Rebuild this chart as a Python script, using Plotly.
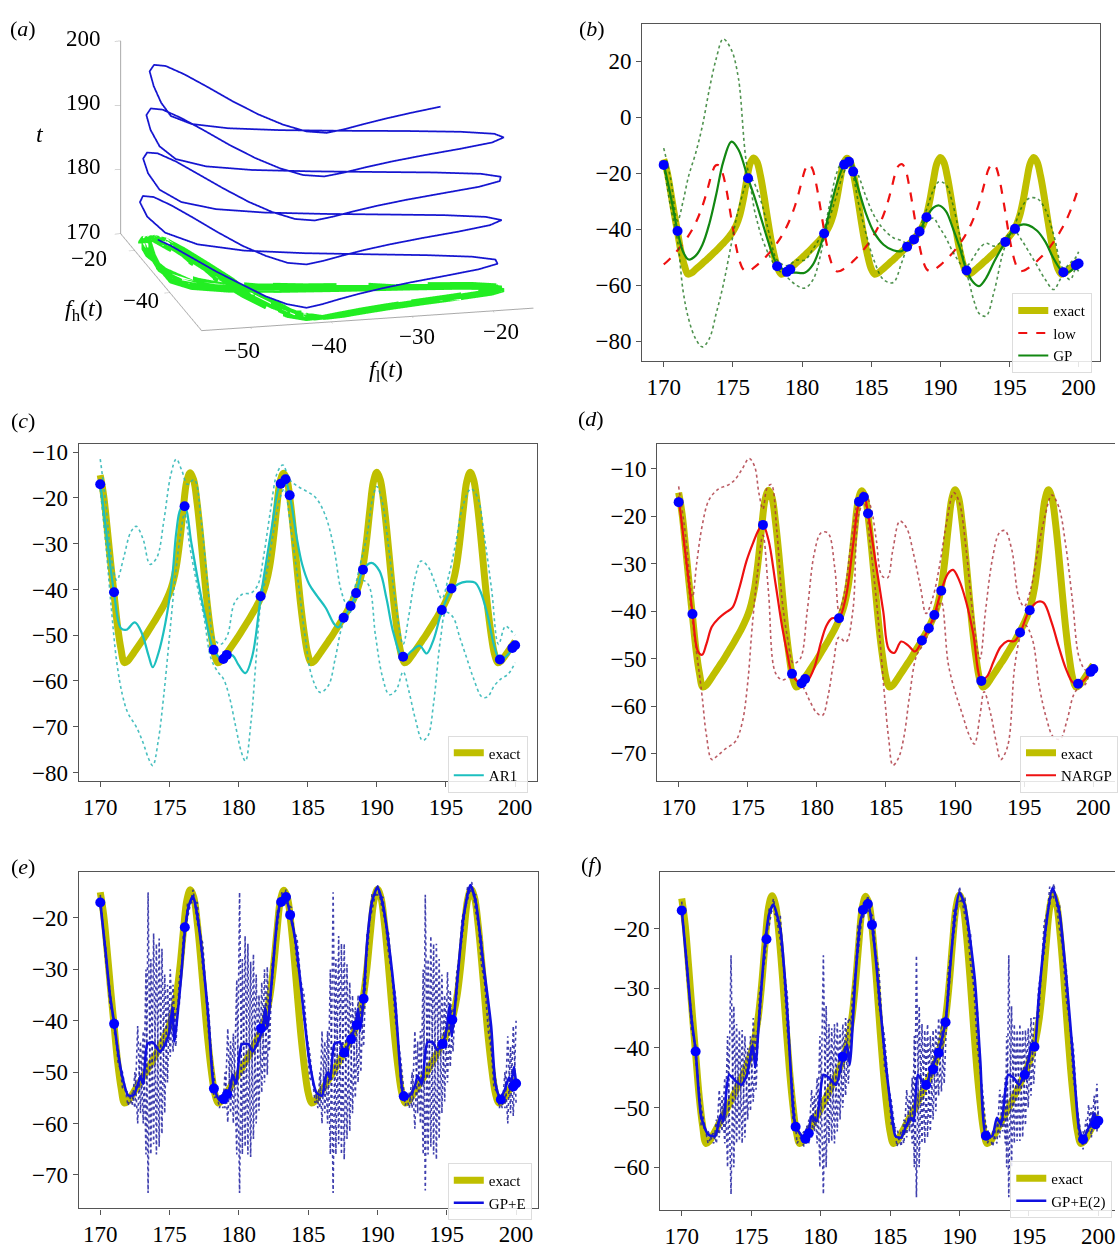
import plotly.graph_objects as go

FONT = "Liberation Serif"
W, H = 1118, 1249

# ---------------- shared time grid (exact = high fidelity f_h, low = f_l) ----------------
t = [170.0, 170.25, 170.5, 170.75, 171.0, 171.25, 171.5, 171.75, 172.0, 172.25, 172.5, 172.75,
     173.0, 173.25, 173.5, 173.75, 174.0, 174.25, 174.5, 174.75, 175.0, 175.25, 175.5, 175.75,
     176.0, 176.25, 176.5, 176.75, 177.0, 177.25, 177.5, 177.75, 178.0, 178.25, 178.5, 178.75,
     179.0, 179.25, 179.5, 179.75, 180.0, 180.25, 180.5, 180.75, 181.0, 181.25, 181.5, 181.75,
     182.0, 182.25, 182.5, 182.75, 183.0, 183.25, 183.5, 183.75, 184.0, 184.25, 184.5, 184.75,
     185.0, 185.25, 185.5, 185.75, 186.0, 186.25, 186.5, 186.75, 187.0, 187.25, 187.5, 187.75,
     188.0, 188.25, 188.5, 188.75, 189.0, 189.25, 189.5, 189.75, 190.0, 190.25, 190.5, 190.75,
     191.0, 191.25, 191.5, 191.75, 192.0, 192.25, 192.5, 192.75, 193.0, 193.25, 193.5, 193.75,
     194.0, 194.25, 194.5, 194.75, 195.0, 195.25, 195.5, 195.75, 196.0, 196.25, 196.5, 196.75,
     197.0, 197.25, 197.5, 197.75, 198.0, 198.25, 198.5, 198.75, 199.0, 199.25, 199.5, 199.75, 200.0]

exact = [-15.0, -19.5, -26.5, -34.0, -41.0, -48.0, -53.0, -56.0,
         -55.6, -54.6, -53.5, -52.4, -51.3, -50.2, -49.0, -47.8, -46.6, -45.3, -44.0, -42.5, -40.8, -38.5,
         -35.0, -29.5, -22.5, -16.5, -14.5, -16.0, -21.0, -28.0, -36.0, -43.5, -49.5, -54.0, -56.0,
         -55.6, -54.6, -53.5, -52.4, -51.3, -50.2, -49.0, -47.8, -46.6, -45.3, -44.0, -42.5, -40.8, -38.5,
         -35.0, -29.5, -22.5, -16.5, -14.6, -16.0, -21.0, -28.0, -36.0, -43.5, -49.5, -54.0, -56.0,
         -55.6, -54.6, -53.5, -52.4, -51.3, -50.2, -49.0, -47.8, -46.6, -45.3, -44.0, -42.5, -40.8, -38.5,
         -35.0, -29.5, -22.5, -16.5, -14.4, -16.0, -21.0, -28.0, -36.0, -43.5, -49.5, -54.0, -56.0,
         -55.6, -54.6, -53.5, -52.4, -51.3, -50.2, -49.0, -47.8, -46.6, -45.3, -44.0, -42.5, -40.8, -38.5,
         -35.0, -29.5, -22.5, -16.5, -14.4, -16.0, -21.0, -28.0, -36.0, -43.5, -49.5, -54.0, -56.0,
         -55.6, -54.6, -53.5, -52.4, -51.3]

low = [-52.5, -51.5, -50.3, -49.0, -47.5, -46.0, -44.4, -42.6, -40.6, -38.3, -35.6, -32.4, -28.6, -24.2,
       -19.8, -17.2, -17.2, -19.8, -25.0, -32.0, -39.5, -46.5, -51.5, -54.3, -55.0,
       -54.6, -53.8, -52.8, -51.7, -50.5, -49.2, -47.8, -46.2, -44.5, -42.6, -40.4, -37.9, -35.0, -31.5,
       -27.3, -22.5, -18.4, -16.7, -18.4, -23.2, -30.0, -37.5, -44.5, -50.0, -53.5, -55.0,
       -54.9, -54.2, -53.3, -52.3, -51.1, -49.9, -48.5, -47.0, -45.4, -43.6, -41.6, -39.3, -36.6, -33.4,
       -29.5, -24.8, -20.0, -17.2, -16.8, -19.0, -24.5, -31.5, -39.0, -46.0, -51.2, -54.2, -55.0,
       -54.6, -53.8, -52.8, -51.7, -50.5, -49.2, -47.8, -46.2, -44.5, -42.6, -40.4, -37.9, -35.0, -31.5,
       -27.3, -22.5, -18.4, -16.7, -17.6, -21.5, -28.0, -35.5, -43.0, -49.0, -53.0, -54.8, -54.8,
       -54.2, -53.4, -52.4, -51.3, -50.1, -48.8, -47.4, -45.8, -44.1, -42.2, -40.1, -37.8, -35.2, -32.2,
       -28.8, -25.0]

floor_t = [170.0] * len(t)   # projection plane of panel (a)

# tick labels of the 3-D panel (a)
a_fl_ticks = [-50, -40, -30, -20]
a_fh_ticks = [-40, -20]
a_t_ticks = [170, 180, 190, 200]

# ---------------- high-fidelity observations (blue dots) ----------------
obs_t = [170.0, 171.0, 176.1, 178.2, 178.9, 179.15, 181.6, 183.05, 183.4, 183.7,
         187.6, 188.1, 188.5, 189.0, 191.9, 194.7, 195.4, 198.9, 199.8, 200.0]
obs_y = [-17.0, -40.6, -21.8, -53.2, -55.2, -54.3, -41.5, -16.9, -15.9, -19.4,
         -46.2, -43.6, -40.8, -35.7, -54.7, -44.5, -39.8, -55.3, -52.8, -52.2]

# ---------------- (b) GP ----------------
gp_t = [170.0, 170.5, 171.0, 171.4, 171.8, 172.3, 172.8, 173.3, 173.8, 174.3, 174.9, 175.4, 176.1, 176.6,
        177.1, 177.7, 178.2, 178.9, 179.6, 180.2, 180.8, 181.3, 181.6, 182.0, 182.5, 183.0, 183.4, 183.7,
        184.1, 184.6, 185.2, 185.9, 186.6, 187.2, 187.6, 188.1, 188.5, 189.0, 189.5, 189.9, 190.4, 190.9,
        191.4, 191.9, 192.4, 192.8, 193.3, 193.9, 194.7, 195.4, 195.9, 196.4, 197.0, 197.6, 198.2, 198.9,
        199.4, 199.8, 200.0]
gp_mean = [-16.5, -28, -40.6, -48, -50.8, -49.5, -45.5, -38, -27.5, -16, -8.7, -11.5, -21.8, -29,
           -37, -46.5, -52.5, -55, -55.5, -55.5, -52.5, -46.5, -41.5, -33.5, -24, -17.5, -15.8, -19.4,
           -26, -34, -41, -45.5, -47.5, -47.8, -46.2, -43.6, -40.8, -35.7, -32.3, -31.5, -33.5, -39.5,
           -46.5, -54.7, -59.0, -60.3, -57.5, -51.5, -44.5, -39.5, -38.3, -38.6, -40.5, -44.5, -50.5, -55.3,
           -55.0, -52.8, -52.2]
gp_up = [-11, -22, -37, -30, -21, -13, -3, 10, 21, 28, 24, 14, -19, -24,
         -31, -43, -51, -53, -51, -51, -47, -43, -40, -31, -20, -15, -14.5, -17,
         -21, -28, -35, -40, -43, -44, -45, -43, -39.5, -33, -26, -23, -24, -31,
         -42, -53, -50, -47, -45, -46, -43, -38, -32, -29, -29, -33, -42, -54,
         -52, -50, -48]
gp_lo = [-17, -32, -44, -62, -72, -79, -82, -79, -70, -60, -45, -33, -23, -34,
         -43, -50, -54, -57, -60, -61, -58, -50, -43, -36, -28, -20, -17, -21,
         -31, -41, -51, -58, -59, -52, -47, -44.5, -42, -37.5, -36, -39, -43, -48,
         -52, -56, -65, -70, -71, -62, -46, -41, -44, -48, -53, -58, -61.5, -56.5,
         -58, -54, -55]

# ---------------- (c) AR1 ----------------
ar_t = [170.0, 170.5, 171.0, 171.5, 171.9, 172.5, 173.0, 173.5, 173.8, 174.2, 174.7, 175.2, 175.5, 175.8,
        176.1, 176.6, 177.1, 177.6, 178.2, 178.8, 179.2, 179.6, 180.0, 180.5, 181.0, 181.6, 182.0, 182.4,
        182.9, 183.3, 183.7, 184.2, 184.6, 185.1, 185.7, 186.3, 186.9, 187.2, 187.6, 188.1, 188.5, 189.0,
        189.6, 190.2, 190.7, 191.2, 191.9, 192.5, 193.1, 193.6, 194.1, 194.7, 195.4, 195.9, 196.5, 197.1,
        197.5, 198.0, 198.5, 198.9, 199.4, 199.8, 200.0]
ar_mean = [-16.5, -29, -40.8, -48.5, -48.8, -47.2, -49.5, -54.5, -57, -54, -47.5, -37.5, -27.5, -22.5,
           -21.8, -30, -38.5, -46, -53.2, -55.2, -54.3, -54.5, -56.5, -58.3, -54.5, -41.7, -34, -26.5,
           -17.8, -15.5, -19.4, -28.5, -34.5, -38.8, -41.5, -44, -47.5, -48.3, -46.3, -43.7, -40.9, -35.8,
           -34.2, -36, -42, -49.5, -55, -53.5, -52.3, -54, -51, -44.7, -40, -38.8, -38.3, -38.5,
           -40.5, -45.5, -52.5, -55.4, -54.5, -53, -52.4]
ar_up_t = [170.0, 170.4, 170.8, 171.2, 171.7, 172.2, 172.6, 173.1, 173.6, 174.1, 174.6, 175.1, 175.5, 175.9,
           176.3, 176.8, 177.3, 177.8, 178.2, 178.7, 179.2, 179.7, 180.3, 180.9, 181.4, 181.8, 182.3, 182.8,
           183.2, 183.7, 184.3, 184.9, 185.6, 186.3, 186.9, 187.4, 187.8, 188.3, 188.8, 189.3, 189.7, 190.0,
           190.4, 190.9, 191.4, 191.9, 192.3, 192.8, 193.2, 193.7, 194.2, 194.7, 195.2, 195.7, 196.2, 196.8,
           197.3, 197.8, 198.3, 198.8, 199.3, 199.7, 200.0]
ar_up = [-11.5, -21, -33, -38, -33, -27.5, -26.2, -29, -34.5, -33, -25, -15, -11.5, -14,
         -17, -16, -25, -40, -50.5, -52, -50, -43, -41, -40.8, -39, -33, -23, -14.5,
         -12.8, -16, -17.5, -18.5, -20, -24, -31, -40, -43, -40.5, -34.5, -28, -20, -17.5,
         -21, -32, -44, -52, -46, -37, -33.8, -35, -38.5, -42, -37, -30, -22, -18,
         -20, -29, -40, -52, -48, -49, -50]
ar_lo_t = [170.0, 170.4, 170.8, 171.2, 171.6, 172.0, 172.6, 173.1, 173.5, 173.8, 174.2, 174.6, 175.0, 175.4,
           175.8, 176.1, 176.5, 177.0, 177.5, 178.0, 178.5, 178.9, 179.3, 179.8, 180.2, 180.5, 180.9, 181.3,
           181.6, 182.0, 182.5, 183.0, 183.3, 183.8, 184.3, 184.8, 185.3, 185.9, 186.5, 187.0, 187.5, 187.9,
           188.4, 188.9, 189.4, 189.9, 190.4, 190.9, 191.4, 191.9, 192.3, 192.8, 193.3, 193.7, 194.1, 194.6,
           195.0, 195.5, 196.0, 196.5, 197.0, 197.6, 198.0, 198.5, 199.0, 199.5, 200.0]
ar_lo = [-18, -30, -44, -56, -63, -67, -70, -73.5, -77, -78.5, -73, -63, -50.5, -38,
         -28, -23.5, -31, -39, -46, -55, -58, -59.5, -63, -70, -75.5, -77.5, -69, -54,
         -43, -37, -28, -20, -18, -27, -38, -50, -59, -62.5, -61, -55, -48, -46,
         -43, -38, -39, -50, -59, -63, -62, -58, -62, -68.5, -73, -72, -65, -51,
         -45, -46, -50.5, -55, -59.5, -63.5, -63.5, -61, -59.5, -58.5, -56]

# ---------------- (d) NARGP ----------------
nar_t = [170.0, 170.5, 171.0, 171.4, 171.7, 172.0, 172.4, 172.9, 173.4, 173.9, 174.4, 174.9, 175.4, 175.8,
         176.1, 176.5, 177.0, 177.5, 177.9, 178.2, 178.9, 179.3, 179.8, 180.3, 180.7, 181.1, 181.6, 182.1,
         182.6, 183.05, 183.4, 183.7, 184.2, 184.8, 185.2, 185.6, 186.1, 186.6, 187.1, 187.6, 188.1, 188.5,
         189.0, 189.5, 189.85, 190.3, 190.8, 191.3, 191.9, 192.3, 192.8, 193.3, 193.8, 194.3, 194.7, 195.4,
         196.0, 196.4, 197.0, 197.5, 198.0, 198.5, 198.9, 199.4, 199.8, 200.0]
nar_mean = [-16, -28, -40.3, -48.5, -49.2, -47, -43.3, -41.5, -40.3, -39.2, -35, -29.5, -25.5, -22.8,
            -21.8, -25, -34, -43.5, -49.5, -53.2, -55.4, -54.8, -52, -46.5, -43, -41.5, -41.4, -37,
            -26.5, -17.2, -15.5, -19.4, -28.7, -40, -48, -48.8, -46.4, -47.2, -48.5, -46.3, -43.6, -40.8,
            -35.7, -32, -31.3, -33.5, -38, -44.5, -54.5, -53.8, -50.5, -47.5, -46.3, -46.3, -44.6, -39.7,
            -38, -38.2, -42.5, -47.5, -52, -55, -55.5, -54.3, -52.8, -52.3]
nar_up_t = [170.0, 170.5, 171.0, 171.3, 171.7, 172.2, 172.9, 173.5, 174.0, 174.6, 175.1, 175.5, 175.8, 176.1,
            176.4, 176.7, 177.1, 177.5, 177.9, 178.3, 178.8, 179.3, 179.8, 180.3, 180.8, 181.3, 181.6, 182.0,
            182.5, 183.0, 183.4, 183.9, 184.3, 184.7, 185.1, 185.5, 186.0, 186.5, 187.0, 187.5, 187.9, 188.4,
            188.9, 189.4, 189.9, 190.3, 190.8, 191.3, 191.8, 192.2, 192.7, 193.2, 193.6, 194.1, 194.6, 195.0,
            195.5, 196.0, 196.5, 197.0, 197.5, 198.0, 198.5, 199.0, 199.5, 200.0]
nar_up = [-13.7, -24, -37, -30, -22, -16.5, -14.2, -13.5, -12.5, -10, -7.8, -9.5, -15, -18.5,
          -14, -13.3, -23, -38, -46, -51, -50, -40, -28, -23.5, -23.5, -31, -40, -36,
          -25, -16.5, -14.8, -18, -25, -32.5, -33, -27, -21, -22.5, -28, -35, -40.5, -37,
          -30, -21, -15, -17, -27, -41, -50, -40, -29, -23.5, -23, -27, -37, -39,
          -35, -27, -20, -15.5, -18, -26, -38, -50, -52.5, -51.5]
nar_lo_t = [170.0, 170.5, 171.0, 171.4, 171.7, 172.0, 172.4, 172.8, 173.4, 174.1, 174.6, 175.0, 175.3, 175.7,
            176.1, 176.5, 177.0, 177.5, 178.0, 178.5, 179.0, 179.5, 180.0, 180.4, 180.8, 181.2, 181.6, 182.1,
            182.6, 183.0, 183.4, 183.9, 184.4, 184.9, 185.2, 185.5, 185.9, 186.3, 186.7, 187.2, 187.7, 188.2,
            188.6, 189.0, 189.5, 190.0, 190.5, 191.0, 191.4, 191.8, 192.1, 192.6, 193.0, 193.3, 193.8, 194.3,
            194.7, 195.1, 195.6, 196.1, 196.6, 197.1, 197.6, 198.1, 198.6, 199.0, 199.4, 199.7, 200.0]
nar_lo = [-15.7, -29, -42, -51, -58, -66, -71.3, -70.5, -69, -67.5, -63.5, -55, -44, -32,
          -24, -36, -53, -54.5, -54, -54.5, -56, -59, -61.5, -62, -58, -51, -45.5, -46.5,
          -40, -20, -17, -27, -40.5, -58, -67, -72.5, -71, -66.5, -58, -49.5, -47, -44,
          -41, -38, -51, -57, -61.5, -66, -68, -62, -57, -62, -68, -71.3, -68.5, -52,
          -45.5, -43, -46, -56, -62.5, -66.5, -67, -63, -57.5, -56, -55.5, -53.5, -52]

# ---------------- (e) GP+E ----------------
e_t = [170.0, 170.4, 170.7, 171.0, 171.3, 171.6, 172.0, 172.4, 172.75, 172.9, 173.1, 173.4, 173.8, 174.3,
       174.7, 175.0, 175.2, 175.35, 175.55, 175.85, 176.1, 176.4, 176.7, 177.0, 177.4, 177.8, 178.2, 178.6,
       178.9, 179.3, 179.55, 179.8, 180.2, 180.7, 181.0, 181.5, 181.75, 181.9, 182.05, 182.4, 182.8, 183.05,
       183.35, 183.7, 184.1, 184.6, 185.1, 185.6, 186.0, 186.25, 186.45, 186.6, 186.9, 187.3, 187.6, 188.2,
       188.45, 188.6, 188.75, 189.0, 189.25, 189.6, 190.0, 190.4, 190.8, 191.3, 191.6, 191.9, 192.3, 192.7,
       192.9, 193.2, 193.6, 194.0, 194.3, 194.7, 195.0, 195.2, 195.35, 195.5, 195.8, 196.2, 196.7, 197.1,
       197.6, 198.2, 198.5, 198.85, 199.2, 199.5, 199.65, 199.85, 200.0]
e_mean = [-16.9, -27, -35, -40.4, -46.5, -51, -54.5, -54.5, -52, -50.8, -52.3, -44.5, -44.2, -46,
          -44.5, -42, -37.4, -44, -39.5, -31, -22.5, -17.5, -15.8, -19.5, -28, -39.5, -53, -55.4,
          -55, -53.7, -50.5, -52.3, -44.6, -44.6, -46, -43.3, -41.4, -37.4, -41.5, -31.3, -19.5, -16.6,
          -15.7, -19.2, -24.7, -36.4, -48.1, -54, -54.6, -51, -50, -51.4, -44.5, -44.2, -46.2, -42.7,
          -40.5, -37.6, -42, -35.7, -24.7, -16.9, -14.0, -17.5, -24.7, -37, -48, -54.7, -54.6, -52.7,
          -50.7, -52.3, -44.2, -44.2, -45.7, -44.5, -41.5, -37, -43, -40, -31, -20, -13.6, -17,
          -28, -41, -52, -55.2, -53.3, -51, -52, -49, -52.2]
e_zz_t = [170.0, 170.4, 170.7, 171.0, 171.3, 171.6, 172.0, 172.3, 172.5, 172.7, 172.9, 173.1, 173.3, 173.45,
          173.65, 173.85, 174.05, 174.25, 174.45, 174.65, 174.85, 175.05, 175.25, 175.45, 175.7, 176.0, 176.3,
          176.7, 177.0, 177.4, 177.8, 178.2, 178.6, 178.85, 179.0, 179.2, 179.4, 179.6, 179.85, 180.05, 180.25,
          180.45, 180.65, 180.85, 181.05, 181.25, 181.45, 181.65, 181.85, 182.05, 182.2, 182.4, 182.8, 183.1,
          183.4, 183.8, 184.2, 184.7, 185.1, 185.5, 185.7, 185.85, 186.0, 186.2, 186.4, 186.6, 186.8, 187.0,
          187.2, 187.4, 187.6, 187.8, 188.0, 188.2, 188.4, 188.6, 188.8, 189.0, 189.25, 189.6, 190.0, 190.4,
          190.8, 191.3, 191.7, 192.0, 192.3, 192.5, 192.7, 192.9, 193.1, 193.3, 193.45, 193.65, 193.85, 194.05,
          194.25, 194.45, 194.65, 194.85, 195.05, 195.25, 195.45, 195.7, 196.1, 196.5, 196.8, 197.1, 197.5,
          198.0, 198.4, 198.8, 199.0, 199.2, 199.4, 199.6, 199.8, 200.0]
e_zz_hi = [-15.5, -26, -34, -39.5, -45.5, -50, -54, -54, -50, -41, -44, -42, -30, -15,
           -28, -23, -25, -24, -26, -31, -33, -30, -33, -38, -32, -23, -17,
           -14.5, -17, -25, -37, -51, -54.5, -54, -50, -41.5, -44, -42.5, -32, -15, -28,
           -23.5, -25, -28.5, -27, -31, -35, -32.5, -30, -29.5, -35, -29, -18, -15,
           -14.5, -18, -24, -35, -46, -53, -54, -50, -42, -44, -42, -30, -15, -28,
           -23.5, -25, -25, -29, -32.5, -35, -37.4, -35, -35, -32.5, -23, -15.5, -13.5, -16,
           -23, -35, -48, -54, -54, -50, -42, -44, -42, -30, -15.5, -28, -23.5, -25,
           -25, -28, -31, -35, -30.5, -34, -38, -31, -20, -14, -13, -15.5, -24,
           -37, -49, -54.5, -54, -50, -43, -45, -41, -40]
e_zz_lo = [-17.5, -28.5, -37, -42, -48.5, -53, -56.5, -56.5, -57, -60, -58, -60, -66, -73.5,
           -66, -64, -66, -64.5, -62, -58, -52, -47, -46, -45, -37, -27, -20,
           -17, -21, -30, -42, -55, -57, -57, -57, -59.8, -58, -60, -66, -73.5, -66,
           -64.5, -66, -66.5, -63, -60, -57.5, -54, -52, -50.5, -46, -33, -21, -17.5,
           -17, -21, -29, -40, -51, -56, -57, -57, -60, -58, -60, -66, -73.5, -66,
           -64, -66, -67, -63, -61.5, -58, -55, -52, -50, -45, -27, -18.5, -15.5, -19,
           -27, -40, -53, -56.5, -57, -57, -61, -58, -60, -66, -73, -66, -64.5, -66,
           -67, -63, -58, -55.7, -52, -49, -46, -36, -24, -16.5, -15, -19, -29,
           -42, -53, -57, -57, -57, -60, -58, -58.5, -56]

# ---------------- (f) GP+E(2) ----------------
f_t = [170.0, 170.4, 170.7, 171.0, 171.4, 171.9, 172.4, 172.8, 173.0, 173.4, 173.9, 174.3, 174.7, 175.1,
       175.3, 175.6, 176.0, 176.3, 176.6, 177.1, 177.6, 178.0, 178.2, 178.8, 179.15, 179.35, 179.7, 180.2,
       180.6, 181.1, 181.6, 181.9, 182.1, 182.5, 182.9, 183.4, 183.7, 184.0, 184.55, 185.1, 185.4, 185.8,
       186.2, 186.5, 186.7, 187.0, 187.55, 188.1, 188.5, 189.0, 189.3, 189.7, 190.0, 190.4, 191.1, 191.5,
       191.9, 192.35, 192.7, 193.0, 193.5, 193.9, 194.3, 194.65, 195.0, 195.2, 195.4, 195.7, 196.2, 196.7,
       197.2, 197.7, 198.2, 198.6, 198.9, 199.2, 199.5, 199.7, 199.9, 200.0]
f_mean = [-16.8, -27, -35, -40.5, -51.5, -54.5, -54.8, -51.2, -52.3, -44.5, -45.6, -46.2, -44.5, -39.5,
          -43.3, -34, -22.5, -17.5, -16, -20.1, -34, -49.5, -53.2, -55, -53.9, -51.4, -52.3, -44.5,
          -45, -46.2, -41.7, -39.5, -42.8, -28.4, -18.4, -15.7, -19.3, -25.7, -39.5, -50.6, -54.8, -55,
          -52.8, -51.7, -52.3, -44.5, -46.3, -42.8, -40.6, -35.6, -27.3, -17.3, -14, -16.2, -28.4, -42.2,
          -54.7, -54.8, -51.7, -52.8, -44.5, -45, -46.2, -44.5, -41.7, -39.5, -40, -31.8, -20.1, -13.2,
          -17.3, -28.4, -42.2, -53.4, -55.3, -53.9, -52.3, -51, -52.5, -52]
f_zz_t = [170.0, 170.4, 170.7, 171.0, 171.4, 171.9, 172.3, 172.5, 172.7, 172.9, 173.1, 173.3, 173.55, 173.75,
          173.95, 174.15, 174.35, 174.55, 174.75, 174.95, 175.15, 175.35, 175.6, 176.0, 176.3, 176.6, 177.1,
          177.6, 178.0, 178.3, 178.8, 179.0, 179.15, 179.35, 179.55, 179.75, 179.95, 180.2, 180.4, 180.6,
          180.8, 181.0, 181.2, 181.4, 181.6, 181.8, 182.0, 182.3, 182.7, 183.1, 183.4, 183.8, 184.2, 184.6,
          185.1, 185.5, 185.8, 186.0, 186.2, 186.4, 186.6, 186.75, 186.9, 187.1, 187.3, 187.5, 187.7, 187.9,
          188.1, 188.3, 188.5, 188.7, 188.9, 189.2, 189.6, 190.0, 190.4, 190.8, 191.3, 191.7, 192.0, 192.4,
          192.7, 192.9, 193.1, 193.3, 193.4, 193.55, 193.75, 193.95, 194.15, 194.35, 194.55, 194.75, 194.95,
          195.15, 195.35, 195.7, 196.1, 196.5, 196.8, 197.2, 197.7, 198.2, 198.6, 198.9, 199.1, 199.3, 199.5,
          199.7, 199.9, 200.0]
f_zz_hi = [-15.5, -26, -34, -39.5, -50, -54, -54, -52, -47, -48, -45, -38, -24.5, -33,
           -36, -37, -37, -38, -40, -38, -35, -38, -31, -21, -16.5, -15, -18,
           -31, -47, -53, -54, -53, -52, -47, -48, -45, -38, -24.5, -33, -36,
           -36.7, -36, -35.6, -37, -36, -35, -35, -31, -19.5, -15.5, -14.5, -18, -27, -38,
           -49, -53.5, -54, -52, -47, -48, -45, -38, -24.5, -33, -36, -37, -36, -38,
           -37, -36.7, -35, -35, -36, -27, -17, -13, -15, -21, -34, -48, -53.5, -54,
           -52, -47, -48, -45, -38, -24.5, -33, -36, -37, -36, -37, -37, -36.7,
           -35, -35, -30, -19, -13, -12.5, -16, -27, -40, -52, -54, -52, -49.5, -50,
           -48, -46, -50]
f_zz_lo = [-17.5, -28.5, -37, -42, -53, -56, -56, -56, -55, -54, -56, -60, -64.5, -60,
           -56, -55.6, -56, -55, -52, -50.6, -49, -47, -36, -25, -19.5, -17.5, -22,
           -37, -52, -56, -56.5, -56, -56, -55, -54, -56, -60, -64.5, -60, -56,
           -55.6, -56, -54, -52, -50, -48, -46, -36, -24, -18, -17, -22, -33, -43,
           -53, -56.5, -56.5, -56, -55, -54, -56, -60, -65, -60, -56, -56, -55, -54,
           -52, -50.6, -48, -47.3, -46, -32, -21, -15.5, -18, -26, -40, -52, -56, -56.5,
           -56, -55, -54, -56, -60, -65, -60, -56, -55.6, -55.6, -55, -53, -50,
           -48, -46, -35, -24, -16, -15, -20, -32, -45, -55, -57, -56, -54, -55,
           -53, -54, -53]

# ---------------- styles ----------------
YEL = "#BFBF00"
BLUE_DOT = "#0000FF"
TICK_SIZE = 23


def px_x(p):
    return p / W


def px_y(p):
    return 1 - p / H


def alternate(hi, lo):
    a, b = [], []
    for i, (h, l) in enumerate(zip(hi, lo)):
        if i % 2 == 0:
            a.append(h); b.append(l)
        else:
            a.append(l); b.append(h)
    return a, b


def minus(v):
    return str(v).replace("-", "\u2212")


fig = go.Figure()

# ---- panel (a): 3-D ----
fig.add_trace(go.Scatter3d(x=low, y=exact, z=floor_t, mode="lines", scene="scene",
                           line=dict(color="#22EE22", width=8), showlegend=False, hoverinfo="skip"))
fig.add_trace(go.Scatter3d(x=low, y=exact, z=t, mode="lines", scene="scene",
                           line=dict(color="#1515D0", width=3.5), showlegend=False, hoverinfo="skip"))


def add_panel(k, legend, mean_t, mean_y, mean_name, mean_color, dot_color, bounds, extra=None,
              mean_width=2.2, smooth=1.0):
    xa = "x" if k == 1 else "x%d" % k
    ya = "y" if k == 1 else "y%d" % k
    fig.add_trace(go.Scatter(x=t, y=exact, mode="lines", name="exact", xaxis=xa, yaxis=ya,
                             line=dict(color=YEL, width=7, shape="spline"), legend=legend))
    if extra is not None:
        fig.add_trace(extra(xa, ya))
    for (bt, by, sh) in bounds:
        fig.add_trace(go.Scatter(x=bt, y=by, mode="lines", xaxis=xa, yaxis=ya, showlegend=False,
                                 line=dict(color=dot_color, width=1.6, dash="dot", shape=sh), legend=legend))
    fig.add_trace(go.Scatter(x=mean_t, y=mean_y, mode="lines", name=mean_name, xaxis=xa, yaxis=ya,
                             line=dict(color=mean_color, width=mean_width, shape="spline", smoothing=smooth),
                             legend=legend))
    fig.add_trace(go.Scatter(x=obs_t, y=obs_y, mode="markers", xaxis=xa, yaxis=ya, showlegend=False,
                             marker=dict(color=BLUE_DOT, size=10), legend=legend))


# (b)
add_panel(1, "legend", gp_t, gp_mean, "GP", "#128812", "rgba(20,110,20,0.75)",
          [(gp_t, gp_up, "spline"), (gp_t, gp_lo, "spline")],
          extra=lambda xa, ya: go.Scatter(x=t, y=low, mode="lines", name="low", xaxis=xa, yaxis=ya,
                                          line=dict(color="#EE1111", width=2.2, dash="dash", shape="spline"),
                                          legend="legend"))
# (c)
add_panel(2, "legend2", ar_t, ar_mean, "AR1", "#1CBFBF", "rgba(40,180,180,0.85)",
          [(ar_up_t, ar_up, "spline"), (ar_lo_t, ar_lo, "spline")])
# (d)
add_panel(3, "legend3", nar_t, nar_mean, "NARGP", "#EE1111", "rgba(170,50,60,0.8)",
          [(nar_up_t, nar_up, "spline"), (nar_lo_t, nar_lo, "spline")])
# (e)
ea, eb = alternate(e_zz_hi, e_zz_lo)
add_panel(4, "legend4", e_t, e_mean, "GP+E", "#1010E0", "rgba(30,30,160,0.85)",
          [(e_zz_t, ea, "linear"), (e_zz_t, eb, "linear")], mean_width=2.6, smooth=0.6)
# (f)
fa, fb = alternate(f_zz_hi, f_zz_lo)
add_panel(5, "legend5", f_t, f_mean, "GP+E(2)", "#1010E0", "rgba(30,30,160,0.85)",
          [(f_zz_t, fa, "linear"), (f_zz_t, fb, "linear")], mean_width=2.6, smooth=0.6)


def xax(dom, rng, anchor):
    return dict(domain=dom, range=rng, anchor=anchor, tickvals=[170, 175, 180, 185, 190, 195, 200],
                showline=True, mirror=True, linecolor="#555555", linewidth=1.3, ticks="outside",
                ticklen=5, tickcolor="#555555", showgrid=False, zeroline=False,
                tickfont=dict(family=FONT, size=TICK_SIZE, color="black"))


def yax(dom, rng, anchor, vals, mirror=True):
    return dict(domain=dom, range=rng, anchor=anchor, tickvals=vals,
                showline=True, mirror=mirror, linecolor="#555555", linewidth=1.3, ticks="outside",
                ticklen=5, tickcolor="#555555", showgrid=False, zeroline=False,
                tickfont=dict(family=FONT, size=TICK_SIZE, color="black"))


def legend_at(xp, yp):
    return dict(x=px_x(xp), y=px_y(yp), xanchor="left", yanchor="top", bgcolor="rgba(255,255,255,0.85)",
                bordercolor="#DDDDDD", borderwidth=1, font=dict(family=FONT, size=15, color="black"),
                tracegroupgap=0, itemwidth=30)


def ax3d(rng, vals):
    return dict(range=rng, tickvals=vals, showticklabels=False, title=dict(text=""),
                showbackground=False, showgrid=False, zeroline=False, showline=True, linecolor="#AAAAAA",
                linewidth=2, ticks="outside", ticklen=6, tickcolor="#AAAAAA", showspikes=False)


xr = [168.45, 201.55]
layout = dict(
    width=W, height=H, margin=dict(l=0, r=0, t=0, b=0, pad=0),
    paper_bgcolor="white", plot_bgcolor="white", font=dict(family=FONT, color="black"),
    xaxis=xax([px_x(644), px_x(1103)], xr, "y"),
    yaxis=yax([px_y(361.7), px_y(20)], [-87.05, 33.4], "x", [-80, -60, -40, -20, 0, 20]),
    xaxis2=xax([px_x(79), px_x(538)], xr, "y2"),
    yaxis2=yax([px_y(787), px_y(446)], [-81.85, -8.27], "x2", [-80, -70, -60, -50, -40, -30, -20, -10]),
    xaxis3=xax([px_x(659), 1.0], [168.45, 201.57], "y3"),
    yaxis3=yax([px_y(787), px_y(446)], [-75.8, -4.8], "x3", [-70, -60, -50, -40, -30, -20, -10], mirror=False),
    xaxis4=xax([px_x(79), px_x(539)], xr, "y4"),
    yaxis4=yax([px_y(1220), px_y(879)], [-76.5, -11.0], "x4", [-70, -60, -50, -40, -30, -20]),
    xaxis5=xax([px_x(662), 1.0], [168.45, 201.2], "y5"),
    yaxis5=yax([px_y(1222), px_y(879)], [-67.2, -10.5], "x5", [-60, -50, -40, -30, -20], mirror=False),
    legend=legend_at(1015, 293),
    legend2=legend_at(449, 741),
    legend3=legend_at(1023, 741),
    legend4=legend_at(449, 1174),
    legend5=legend_at(1013, 1172),
    scene=dict(
        domain=dict(x=[px_x(8), px_x(648)], y=[px_y(345), 1.0]),
        xaxis=ax3d([-56, -15], a_fl_ticks),
        yaxis=ax3d([-58, -12], a_fh_ticks),
        zaxis=ax3d([170, 200], a_t_ticks),
        aspectmode="manual", aspectratio=dict(x=2.0, y=2.05, z=1.18),
        camera=dict(eye=dict(x=-0.444, y=-1.865, z=0.57), center=dict(x=0, y=0, z=0),
                    up=dict(x=0, y=0, z=1), projection=dict(type="orthographic")),
    ),
)
fig.update_layout(**layout)

ann = [
    ("(<i>a</i>)", 23, 25, 22), ("(<i>b</i>)", 594, 25, 22), ("(<i>c</i>)", 23, 422, 22),
    ("(<i>d</i>)", 593, 420, 22), ("(<i>e</i>)", 23, 874, 22), ("(<i>f</i>)", 593, 872, 22),
    ("<i>t</i>", 40, 132, 24), ("<i>f</i><sub>h</sub>(<i>t</i>)", 84, 310, 24),
    ("<i>f</i><sub>l</sub>(<i>t</i>)", 387, 372, 24),
]
# 3-D tick labels (placed beside the scene's tick marks)
a_fl_pos = [(243, 351), (330, 346), (418, 337), (502, 332)]
a_fh_pos = [(141, 300), (89, 258)]
a_t_pos = [(84, 230), (84, 165), (84, 100), (84, 35)]
for v, (xp, yp) in zip(a_fl_ticks, a_fl_pos):
    ann.append((minus(v), xp, yp, 23))
for v, (xp, yp) in zip(a_fh_ticks, a_fh_pos):
    ann.append((minus(v), xp, yp, 23))
for v, (xp, yp) in zip(a_t_ticks, a_t_pos):
    ann.append((minus(v), xp, yp, 23))

for txt, xp, yp, sz in ann:
    fig.add_annotation(text=txt, x=px_x(xp), y=px_y(yp), xref="paper", yref="paper", showarrow=False,
                       xanchor="center", yanchor="middle", font=dict(family=FONT, size=sz, color="black"))

fig.write_html("out.html")
